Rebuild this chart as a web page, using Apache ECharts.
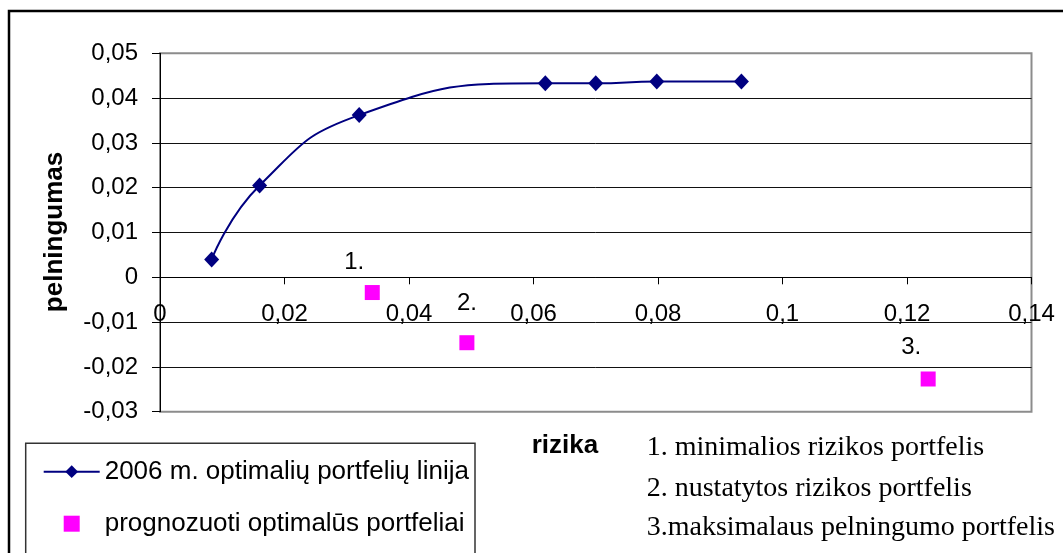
<!DOCTYPE html>
<html>
<head>
<meta charset="utf-8">
<script src="https://cdn.jsdelivr.net/npm/echarts@6/dist/echarts.min.js"></script>
<style>
    html, body { margin: 0; padding: 0; background: #fff; }
    #chart { width: 1063px; height: 553px; }
</style>
</head>
<body>
<div id="chart"></div>
<script>
    // 2006 m. optimalių portfelių linija (rizika, pelningumas)
    var lineRisk = [0.0083, 0.0160, 0.0320, 0.0619, 0.0700, 0.0798, 0.0934];
    var lineReturn = [0.0040, 0.0205, 0.0362, 0.0433, 0.0433, 0.0437, 0.0437];
    // prognozuoti optimalūs portfeliai
    var forecastRisk = [0.0341, 0.0493, 0.1234];
    var forecastReturn = [-0.0034, -0.0146, -0.0227];
    var forecastTags = ['1.', '2.', '3.'];

    var seriesNames = ['2006 m. optimalių portfelių linija', 'prognozuoti optimalūs portfeliai'];
    var yTitle = 'pelningumas';
    var xTitle = 'rizika';
    var noteLines = [
        '1. minimalios rizikos portfelis',
        '2. nustatytos rizikos portfelis',
        '3.maksimalaus pelningumo portfelis'
    ];

    var sans = '"Liberation Sans", Arial, sans-serif';
    var serif = '"Liberation Serif", "Times New Roman", serif';

    function comma(v) {
        if (v === 0) return '0';
        return String(+v.toFixed(2)).replace('.', ',');
    }
    function commaY(v) {
        if (v === 0) return '0';
        return v.toFixed(2).replace('.', ',');
    }

    var lineData = lineRisk.map(function (x, i) { return [x, lineReturn[i]]; });
    // where each tag sits relative to its square
    var tagNudge = [[-18, -30], [0, -39], [-17, -32]];
    var forecastData = forecastRisk.map(function (x, i) {
        return {
            value: [x, forecastReturn[i]],
            label: { formatter: forecastTags[i], offset: tagNudge[i] }
        };
    });

    var chart = echarts.init(document.getElementById('chart'));
    var option = {
        animation: false,
        backgroundColor: '#fff',
        grid: {
            left: 160, right: 31.5, top: 53.3, bottom: 141.3,
            show: true, borderColor: '#8c8c8c', borderWidth: 2
        },
        xAxis: {
            type: 'value',
            min: 0, max: 0.14, interval: 0.02,
            position: 'bottom',
            offset: -134.4,   // sits on the zero line of the y axis
            axisLine: { onZero: false, lineStyle: { color: '#000', width: 1 } },
            axisTick: { show: true, length: 7, lineStyle: { color: '#000' } },
            splitLine: { show: false },
            axisLabel: {
                formatter: comma, margin: 25,
                fontSize: 24, fontFamily: sans, color: '#000'
            }
        },
        yAxis: {
            type: 'value',
            min: -0.03, max: 0.05, interval: 0.01,
            axisLine: { show: true, lineStyle: { color: '#000', width: 1 } },
            axisTick: { show: true, length: 8, lineStyle: { color: '#000' } },
            splitLine: {
                show: true, showMinLine: false, showMaxLine: false,
                lineStyle: { color: '#111', width: 1 }
            },
            axisLabel: {
                formatter: commaY, margin: 22,
                fontSize: 24, fontFamily: sans, color: '#000'
            }
        },
        legend: {
            orient: 'vertical',
            left: 42.7, top: 458.7,
            padding: 0,
            itemWidth: 56, itemHeight: 16, itemGap: 26,
            textStyle: { fontSize: 26, fontFamily: sans, color: '#000' },
            data: [
                { name: seriesNames[0] },
                { name: seriesNames[1], icon: 'path://M0,0H10V10H0Z' }
            ]
        },
        series: [
            {
                name: seriesNames[0],
                type: 'line',
                smooth: 0.5,
                data: lineData,
                symbol: 'diamond',
                symbolSize: [15, 16],
                itemStyle: { color: '#000080' },
                lineStyle: { color: '#000080', width: 2 },
                z: 3
            },
            {
                name: seriesNames[1],
                type: 'scatter',
                data: forecastData,
                symbol: 'rect',
                symbolSize: 15,
                itemStyle: { color: '#ff00ff', opacity: 1 },
                label: {
                    show: true, position: 'inside',
                    fontSize: 24, fontFamily: sans, color: '#000'
                },
                z: 3
            }
        ],
        graphic: [
            {
                type: 'rect', silent: true,
                shape: { x: 9, y: 11, width: 1200, height: 700 },
                style: { fill: 'none', stroke: '#000', lineWidth: 2.5 }
            },
            {
                type: 'rect', silent: true,
                shape: { x: 25.7, y: 443.3, width: 449.3, height: 200 },
                style: { fill: 'none', stroke: '#333', lineWidth: 1.5 }
            },
            {
                type: 'text', silent: true,
                x: 55, y: 232, rotation: Math.PI / 2,
                style: {
                    text: yTitle, fill: '#000',
                    font: 'bold 26px ' + sans,
                    textAlign: 'center', textVerticalAlign: 'middle'
                }
            },
            {
                type: 'text', silent: true,
                x: 531.7, y: 446,
                style: {
                    text: xTitle, fill: '#000',
                    font: 'bold 26px ' + sans,
                    textAlign: 'left', textVerticalAlign: 'middle'
                }
            },
            {
                type: 'text', silent: true,
                x: 646.7, y: 448,
                style: { text: noteLines[0], fill: '#000', font: '28px ' + serif, textAlign: 'left', textVerticalAlign: 'middle' }
            },
            {
                type: 'text', silent: true,
                x: 646.7, y: 488.6,
                style: { text: noteLines[1], fill: '#000', font: '28px ' + serif, textAlign: 'left', textVerticalAlign: 'middle' }
            },
            {
                type: 'text', silent: true,
                x: 646.7, y: 528,
                style: { text: noteLines[2], fill: '#000', font: '28px ' + serif, textAlign: 'left', textVerticalAlign: 'middle' }
            }
        ]
    };
    chart.setOption(option);
</script>
</body>
</html>
